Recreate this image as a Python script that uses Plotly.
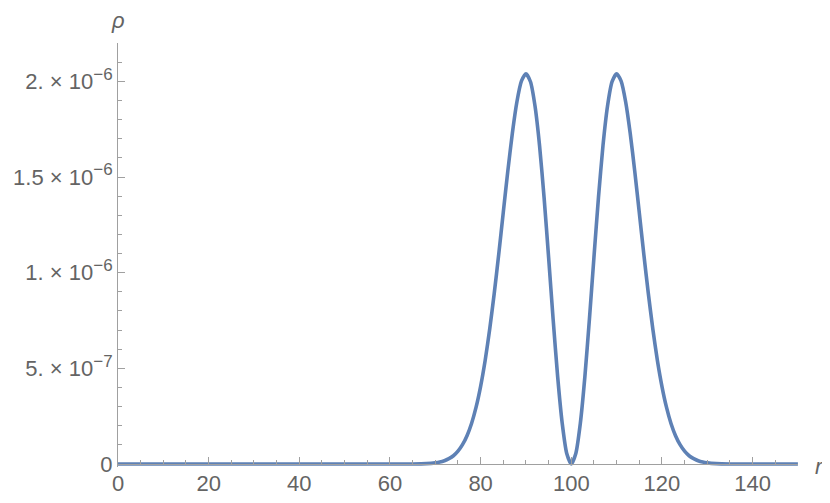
import plotly.graph_objects as go

# radial coordinate r and density rho (in units of 1e-6)
r = [0, 10, 20, 30, 40, 50, 60, 65, 68,
     70, 71, 72, 73, 74, 75, 76, 77, 78, 79,
     80, 81, 82, 83, 84, 85, 86, 87, 88, 89,
     90, 91, 92, 93, 94, 95, 96, 97, 98, 99,
     100, 101, 102, 103, 104, 105, 106, 107, 108, 109,
     110, 111, 112, 113, 114, 115, 116, 117, 118, 119,
     120, 121, 122, 123, 124, 125, 126, 127, 128, 129,
     130, 132, 135, 140, 150]
rho_micro = [0, 0, 0, 0, 0, 0, 0, 0.0003, 0.002,
             0.006, 0.010, 0.017, 0.028, 0.043, 0.067, 0.101, 0.148, 0.212, 0.297,
             0.406, 0.541, 0.704, 0.891, 1.097, 1.315, 1.531, 1.729, 1.892, 2.001,
             2.040, 1.998, 1.871, 1.665, 1.393, 1.080, 0.756, 0.456, 0.213, 0.055,
             0, 0.055, 0.213, 0.456, 0.756, 1.080, 1.393, 1.665, 1.871, 1.998,
             2.040, 2.001, 1.892, 1.729, 1.531, 1.315, 1.097, 0.891, 0.704, 0.541,
             0.406, 0.297, 0.212, 0.148, 0.101, 0.067, 0.043, 0.028, 0.017, 0.010,
             0.006, 0.002, 0.0003, 0, 0]
rho = [v * 1e-6 for v in rho_micro]

sup = '<span style="font-size:17px">'
y_tickvals = [0, 0.5e-6, 1e-6, 1.5e-6, 2e-6]
y_ticktext = ["0",
              "5. × 10<sup>" + sup + "−7</span></sup>",
              "1. × 10<sup>" + sup + "−6</span></sup>",
              "1.5 × 10<sup>" + sup + "−6</span></sup>",
              "2. × 10<sup>" + sup + "−6</span></sup>"]

axis_col = "#a0a0a0"
text_col = "#646464"
font = dict(family="Liberation Sans, Arial, sans-serif", size=22, color=text_col)

fig = go.Figure()
fig.add_trace(go.Scatter(x=r, y=rho, mode="lines",
                         line=dict(color="#5E81B5", width=3.6, shape="spline", smoothing=0.6),
                         showlegend=False, hoverinfo="skip"))

# page body adds an 8px offset, so the figure is 8px smaller and margins shifted
fig.update_layout(
    width=822, height=495,
    margin=dict(l=110, r=32, t=35, b=36, autoexpand=False),
    paper_bgcolor="white", plot_bgcolor="white",
    font=font,
    xaxis=dict(range=[0, 150.02], anchor="free", position=0.00708, automargin=False,
               showgrid=False, zeroline=False,
               showline=True, linecolor=axis_col, linewidth=1,
               ticks="inside", ticklen=7, tickcolor=axis_col, tickwidth=1,
               tickmode="linear", tick0=0, dtick=20,
               ticklabelstandoff=0,
               minor=dict(ticks="inside", ticklen=4, tickcolor=axis_col, tick0=0, dtick=5),
               tickfont=font),
    yaxis=dict(range=[-1.568e-8, 2.2005e-6], automargin=False,
               showgrid=False, zeroline=False,
               showline=True, linecolor=axis_col, linewidth=1,
               ticks="inside", ticklen=7, tickcolor=axis_col, tickwidth=1,
               tickmode="array", tickvals=y_tickvals, ticktext=y_ticktext,
               ticklabelstandoff=0,
               minor=dict(ticks="inside", ticklen=4, tickcolor=axis_col, tick0=0, dtick=1e-7),
               tickfont=font),
)

fig.add_annotation(text="<i>ρ</i>", xref="x", x=0, yref="paper", y=1,
                   yanchor="middle", xanchor="center", yshift=23, showarrow=False,
                   font=dict(family="Liberation Sans, Arial, sans-serif", size=22, color=text_col))
fig.add_annotation(text="<i>r</i>", xref="x", x=150, yref="y", y=0,
                   yanchor="middle", xanchor="center", xshift=22, yshift=-2, showarrow=False,
                   font=dict(family="Liberation Sans, Arial, sans-serif", size=22, color=text_col))

fig.write_html("out.html")
